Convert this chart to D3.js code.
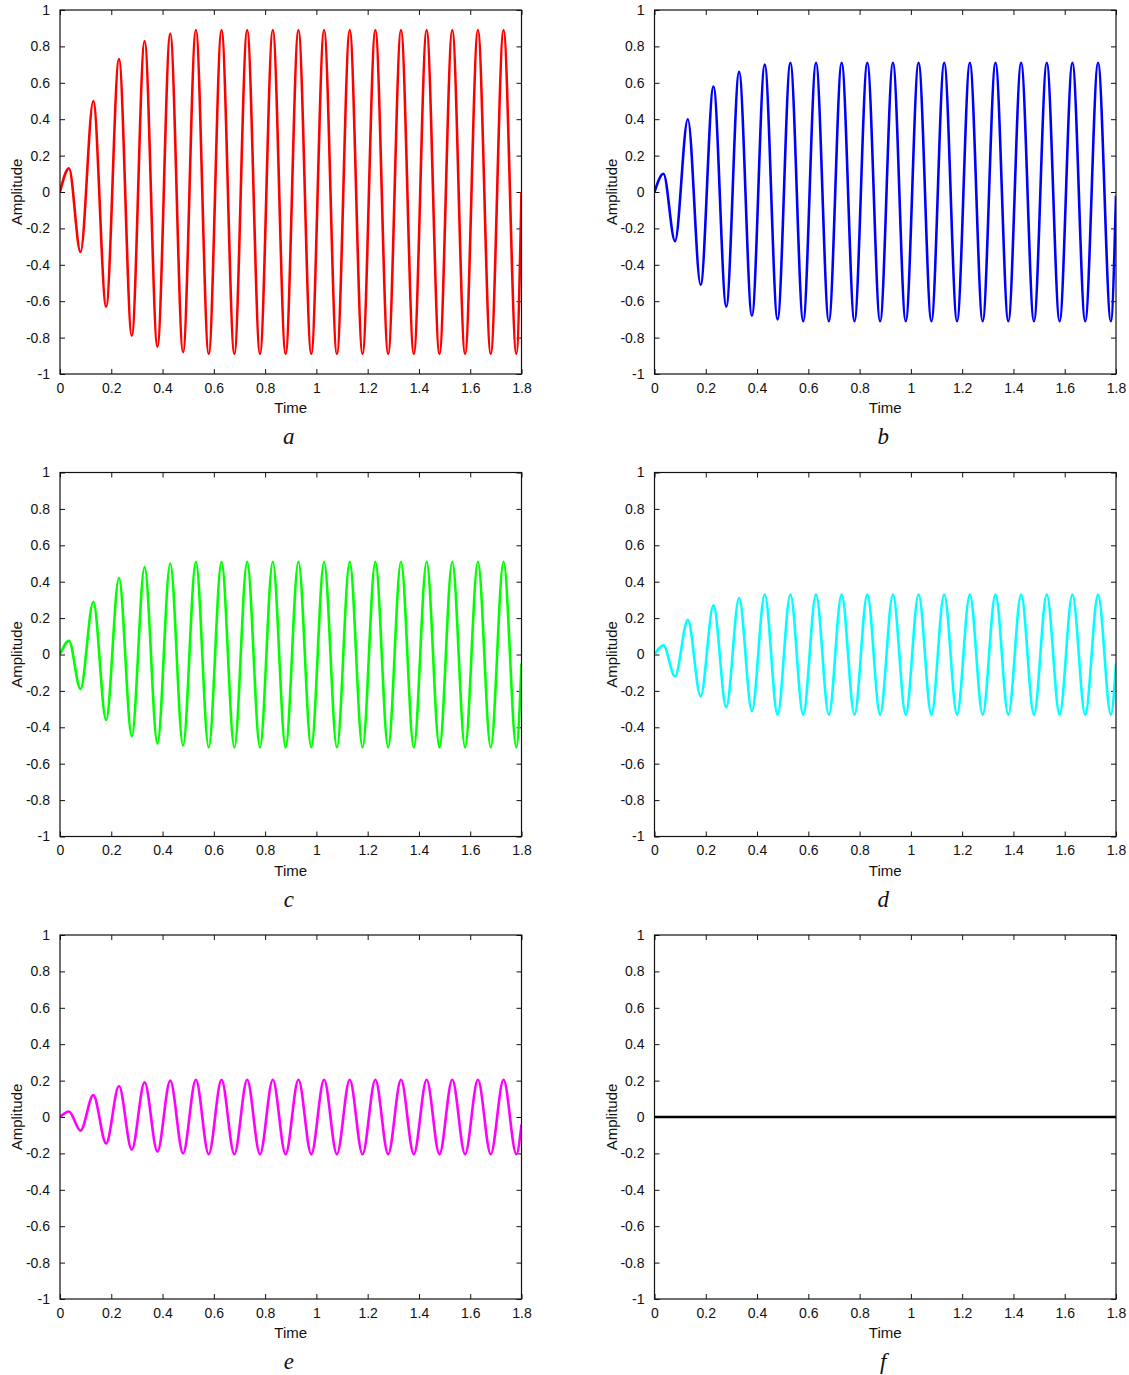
<!DOCTYPE html>
<html><head><meta charset="utf-8">
<script src="https://cdn.jsdelivr.net/npm/d3@7"></script>
<style>
body{margin:0;background:#fff;}
svg{display:block;}
</style></head>
<body>
<svg id="chart" width="1129" height="1375"></svg>
<script>
// Times of the start, each visible extremum, and the end of the record
const extremaTimes = [0, 0.035, 0.08, 0.13, 0.18, 0.23, 0.28, 0.33, 0.38, 0.43, 0.48, 0.53, 0.58, 0.63, 0.68, 0.73, 0.78, 0.83, 0.88, 0.93, 0.98, 1.03, 1.08, 1.13, 1.18, 1.23, 1.28, 1.33, 1.38, 1.43, 1.48, 1.53, 1.58, 1.63, 1.68, 1.73, 1.78, 1.8];

const seriesA = [0, 0.13, -0.33, 0.50, -0.63, 0.73, -0.79, 0.83, -0.85, 0.87, -0.88, 0.89, -0.89, 0.89, -0.89, 0.89, -0.89, 0.89, -0.89, 0.89, -0.89, 0.89, -0.89, 0.89, -0.89, 0.89, -0.89, 0.89, -0.89, 0.89, -0.89, 0.89, -0.89, 0.89, -0.89, 0.89, -0.89, 0.0];
const seriesB = [0, 0.10, -0.27, 0.40, -0.51, 0.58, -0.63, 0.66, -0.68, 0.70, -0.70, 0.71, -0.71, 0.71, -0.71, 0.71, -0.71, 0.71, -0.71, 0.71, -0.71, 0.71, -0.71, 0.71, -0.71, 0.71, -0.71, 0.71, -0.71, 0.71, -0.71, 0.71, -0.71, 0.71, -0.71, 0.71, -0.71, -0.02];
const seriesC = [0, 0.075, -0.19, 0.29, -0.36, 0.42, -0.45, 0.48, -0.49, 0.50, -0.50, 0.51, -0.51, 0.51, -0.51, 0.51, -0.51, 0.51, -0.51, 0.51, -0.51, 0.51, -0.51, 0.51, -0.51, 0.51, -0.51, 0.51, -0.51, 0.51, -0.51, 0.51, -0.51, 0.51, -0.51, 0.51, -0.51, -0.05];
const seriesD = [0, 0.05, -0.12, 0.19, -0.23, 0.27, -0.29, 0.31, -0.31, 0.33, -0.33, 0.33, -0.33, 0.33, -0.33, 0.33, -0.33, 0.33, -0.33, 0.33, -0.33, 0.33, -0.33, 0.33, -0.33, 0.33, -0.33, 0.33, -0.33, 0.33, -0.33, 0.33, -0.33, 0.33, -0.33, 0.33, -0.33, -0.05];
const seriesE = [0, 0.03, -0.075, 0.12, -0.145, 0.17, -0.18, 0.19, -0.19, 0.20, -0.20, 0.205, -0.205, 0.205, -0.205, 0.205, -0.205, 0.205, -0.205, 0.205, -0.205, 0.205, -0.205, 0.205, -0.205, 0.205, -0.205, 0.205, -0.205, 0.205, -0.205, 0.205, -0.205, 0.205, -0.205, 0.205, -0.205, -0.04];
const flatTimes = [0, 1.8];
const seriesF = [0, 0];

const panelLabels = ["a", "b", "c", "d", "e", "f"];
const panelColors = ["#ff0000", "#0000ff", "#00ff00", "#00ffff", "#ff00ff", "#000000"];
const xTicks = [0, 0.2, 0.4, 0.6, 0.8, 1, 1.2, 1.4, 1.6, 1.8];
const yTicks = [-1, -0.8, -0.6, -0.4, -0.2, 0, 0.2, 0.4, 0.6, 0.8, 1];

const panels = [
  {t: extremaTimes, v: seriesA},
  {t: extremaTimes, v: seriesB},
  {t: extremaTimes, v: seriesC},
  {t: extremaTimes, v: seriesD},
  {t: extremaTimes, v: seriesE},
  {t: flatTimes, v: seriesF}
];

const svg = d3.select("#chart");
const lefts = [60, 654.5];
const tops = [10, 472.5, 935];
const W = 461.5, H = 364;
const fmt = d => String(Math.round(d * 10) / 10);

panels.forEach((p, i) => {
  const col = i % 2, row = Math.floor(i / 2);
  const g = svg.append("g").attr("transform", `translate(${lefts[col]},${tops[row]})`);
  const x = d3.scaleLinear().domain([0, 1.8]).range([0, W]);
  const y = d3.scaleLinear().domain([-1, 1]).range([H, 0]);

  const clipId = "clip" + i;
  g.append("clipPath").attr("id", clipId).append("rect")
    .attr("x", 0).attr("y", -2).attr("width", W).attr("height", H + 4);

  // axes with inward ticks
  const styleAxis = sel => {
    sel.select(".domain").remove();
    sel.selectAll(".tick line").attr("stroke", "#111").attr("stroke-width", 1);
    sel.selectAll("text").attr("font-family", "Liberation Sans, Arial, sans-serif")
      .attr("font-size", 14).attr("fill", "#111");
  };
  const bottom = g.append("g").attr("transform", `translate(0,${H})`)
    .call(d3.axisBottom(x).tickValues(xTicks).tickFormat(fmt).tickSizeInner(-5).tickSizeOuter(0).tickPadding(9));
  styleAxis(bottom);
  const top = g.append("g")
    .call(d3.axisTop(x).tickValues(xTicks).tickFormat("").tickSizeInner(-5).tickSizeOuter(0));
  styleAxis(top);
  const left = g.append("g")
    .call(d3.axisLeft(y).tickValues(yTicks).tickFormat(fmt).tickSizeInner(-5).tickSizeOuter(0).tickPadding(10));
  styleAxis(left);
  const right = g.append("g").attr("transform", `translate(${W},0)`)
    .call(d3.axisRight(y).tickValues(yTicks).tickFormat("").tickSizeInner(-5).tickSizeOuter(0));
  styleAxis(right);

  const pts = p.t.map((t, k) => [t, p.v[k]]);
  const line = d3.line().x(d => x(d[0])).y(d => y(d[1])).curve(d3.curveMonotoneX);
  g.append("path").datum(pts)
    .attr("clip-path", `url(#${clipId})`)
    .attr("d", line)
    .attr("fill", "none")
    .attr("stroke", panelColors[i])
    .attr("stroke-width", 2.6)
    .attr("stroke-linejoin", "round");

  g.append("rect").attr("x", 0).attr("y", 0).attr("width", W).attr("height", H)
    .attr("fill", "none").attr("stroke", "#111").attr("stroke-width", 1.2);

  g.append("text").attr("x", W / 2).attr("y", H + 39)
    .attr("text-anchor", "middle")
    .attr("font-family", "Liberation Sans, Arial, sans-serif").attr("font-size", 15).attr("fill", "#111")
    .text("Time");
  g.append("text")
    .attr("transform", `translate(${-38},${H / 2}) rotate(-90)`)
    .attr("text-anchor", "middle")
    .attr("font-family", "Liberation Sans, Arial, sans-serif").attr("font-size", 15).attr("fill", "#111")
    .text("Amplitude");
  g.append("text").attr("x", W / 2 - 2).attr("y", H + 70)
    .attr("text-anchor", "middle")
    .attr("font-family", "Liberation Serif, Times New Roman, serif").attr("font-style", "italic")
    .attr("font-size", 23).attr("fill", "#111")
    .text(panelLabels[i]);
});
</script>
</body></html>
